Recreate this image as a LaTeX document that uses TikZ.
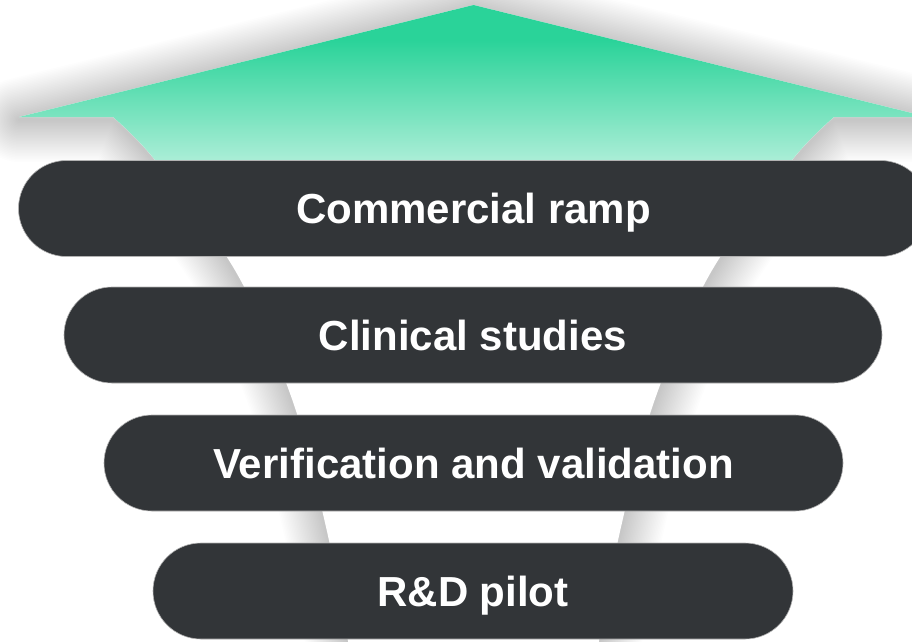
\documentclass[tikz,border=0pt]{standalone}
\usepackage{fontspec}
\setmainfont{Liberation Sans}
\usetikzlibrary{shapes.misc}
\definecolor{pill}{RGB}{50,53,56}
\definecolor{grn}{RGB}{42,211,153}
\tikzset{
  arrowshape/.style={insert path={
    (19,117) -- (473.5,5) -- (928,117) -- (834,117)
    -- plot[smooth,tension=0.55] coordinates {(834,117) (792,160) (711,272) (655,399) (621,527) (599,641) (589,700)}
    -- (358,700)
    -- plot[smooth,tension=0.55] coordinates {(358,700) (348,641) (326,527) (292,399) (236,272) (155,160) (113,117)}
    -- cycle}},
  pillbox/.style={rounded rectangle, fill=pill, draw=black!30, line width=0.6pt,
    minimum height=96pt, inner sep=0pt, text height=30pt, text depth=0pt},
  lbl/.style={text=white, font=\bfseries\fontsize{42}{50}\selectfont}
}
\begin{document}
\begin{tikzpicture}[x=1pt,y=-1pt]
\useasboundingbox (0,0) rectangle (912,641);
\clip (0,0) rectangle (912,641);
\fill[white] (0,0) rectangle (912,641);
% soft shadow
\begin{scope}[yshift=-3pt]
\foreach \w in {3,6,...,84} {
  \draw[black, opacity=0.006, line width=\w pt, line join=round, arrowshape];
}
\end{scope}
% arrow body
\fill[white, arrowshape];
\begin{scope}
  \clip[arrowshape];
  \fill[grn] (0,0) rectangle (912,40);
  \shade[top color=grn, bottom color=white] (0,40) rectangle (912,240);
\end{scope}
% pills
\node[pillbox, minimum width=910pt, lbl] (p1) at (473.5,208.5) {Commercial ramp};
\node[pillbox, minimum width=818pt, lbl] (p2) at (473,335) {Clinical studies};
\node[pillbox, minimum width=739pt, lbl] (p3) at (473.5,463) {Verification and validation};
\node[pillbox, minimum width=640pt, lbl] (p4) at (473,591) {R\&D pilot};
\end{tikzpicture}
\end{document}
